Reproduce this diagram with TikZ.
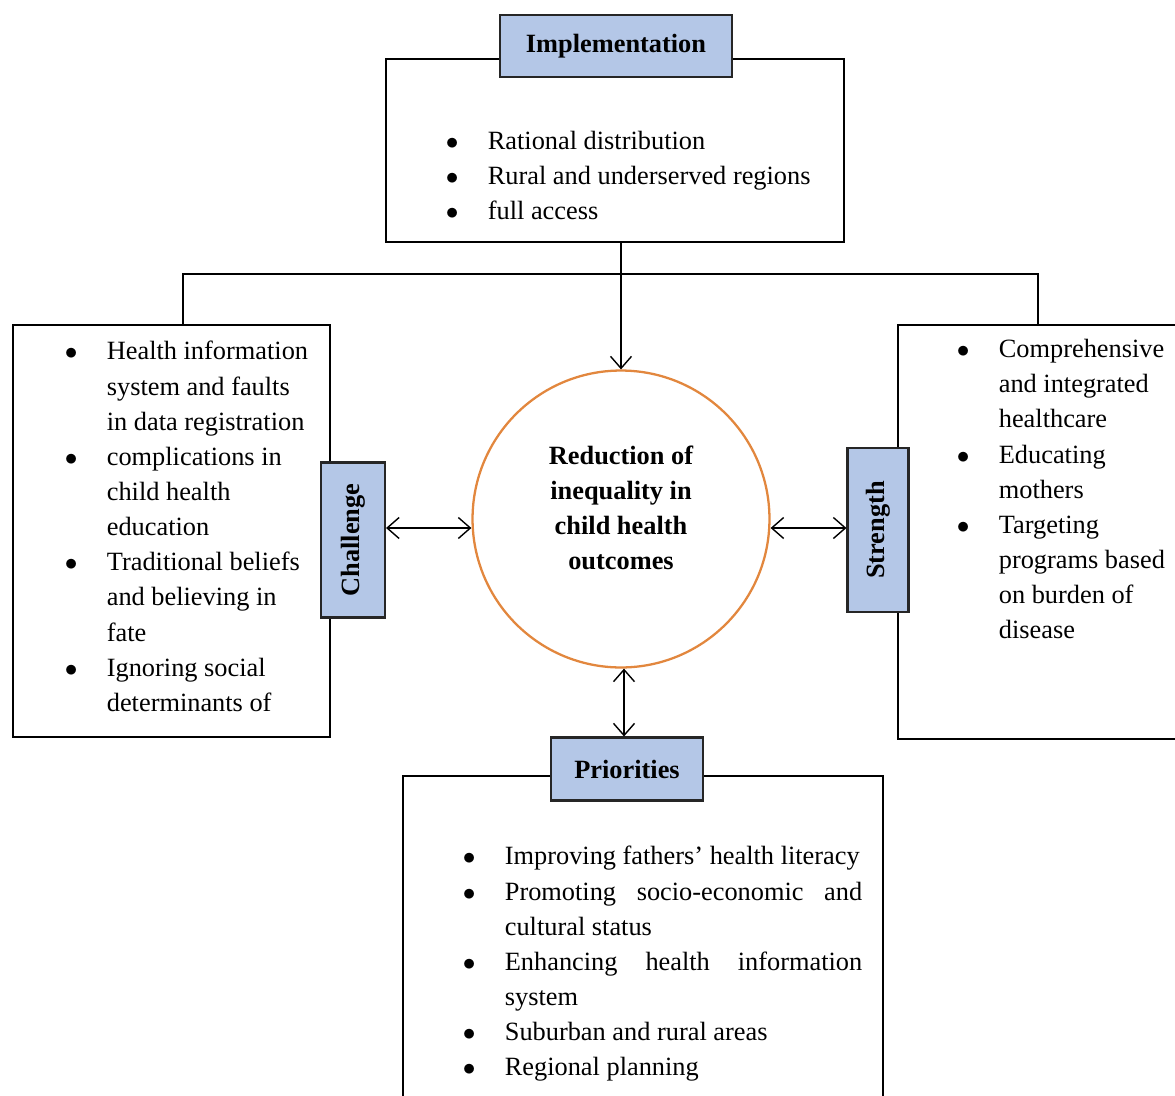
\documentclass[tikz,border=0pt]{standalone}
\usepackage{fontspec}
\setmainfont{Liberation Serif}
\usetikzlibrary{arrows.meta,positioning}
\definecolor{headBlue}{RGB}{180,199,231}
\definecolor{ringOrange}{RGB}{226,135,62}
\newcommand{\Bul}{\makebox[0.84cm][l]{$\bullet$}}
\newcommand{\Ind}{\hspace*{0.84cm}}
\newcommand{\JLine}[1]{\makebox[7.15cm][s]{#1}}

\tikzset{
  listbox/.style={draw,line width=1pt,anchor=north west,inner sep=0pt},
  headbox/.style={draw=black!85,fill=headBlue,line width=1.2pt,inner sep=0pt,font=\bfseries\fontsize{15}{18}\selectfont},
  bodytext/.style={anchor=north west,align=left,inner sep=0pt,font=\fontsize{15}{20}\selectfont},
  goaltext/.style={align=center,inner sep=0pt,font=\bfseries\fontsize{15}{19.9}\selectfont},
  link/.style={line width=0.8pt}
}

\begin{document}
\begin{tikzpicture}[x=0.02cm,y=-0.02cm,>={Straight Barb[length=2.4mm,width=4.2mm]}]
\useasboundingbox (0,0) rectangle (1175,1095);
\clip (0,0) rectangle (1175,1095);

% frames
\node[listbox,minimum width=9.16cm,minimum height=3.66cm] (impl) at (385,58) {};
\node[listbox,minimum width=6.34cm,minimum height=8.24cm] (chal) at (12,324) {};
\node[listbox,minimum width=5.7cm,minimum height=8.28cm] (strg) at (897,324) {};
\node[listbox,minimum width=9.6cm,minimum height=6.8cm] (prio) at (402,775) {};

% lists
\node[bodytext] (impllist) at (445.5,131) {\Bul Rational distribution\\ \Bul Rural and underserved regions\\ \Bul full access};
\node[bodytext] (challist) at (64.5,341) {\Bul Health information\\ \Ind system and faults\\ \Ind in data registration\\
  \Bul complications in\\ \Ind child health\\ \Ind education\\
  \Bul Traditional beliefs\\ \Ind and believing in\\ \Ind fate\\
  \Bul Ignoring social\\ \Ind determinants of};
\node[bodytext] (strglist) at (956.5,339) {\Bul Comprehensive\\ \Ind and integrated\\ \Ind healthcare\\
  \Bul Educating\\ \Ind mothers\\
  \Bul Targeting\\ \Ind programs based\\ \Ind on burden of\\ \Ind disease};
\node[bodytext] (priolist) at (462.5,846) {\Bul Improving fathers' health literacy\\
  \Bul \JLine{Promoting\hfill socio-economic\hfill and}\\ \Ind cultural status\\
  \Bul \JLine{Enhancing\hfill health\hfill information}\\ \Ind system\\
  \Bul Suburban and rural areas\\
  \Bul Regional planning};

% headers
\node[headbox,minimum width=4.64cm,minimum height=1.24cm] (implh) at (616,46) {Implementation};
\node[headbox,rotate=90,minimum width=3.1cm,minimum height=1.28cm] (chalh) at (353,540) {Challenge};
\node[headbox,rotate=90,minimum width=3.28cm,minimum height=1.22cm] (strgh) at (878,530) {Strength};
\node[headbox,minimum width=3.04cm,minimum height=1.26cm] (prioh) at (627,769) {Priorities};

% goal
\node[circle,draw=ringOrange,line width=1.3pt,minimum size=5.94cm] (goal) at (621,519) {};
\node[goaltext] (goaltxt) at ([yshift=0.22cm]goal.center) {Reduction of\\ inequality in\\ child health\\ outcomes};

% connectors
\coordinate (lft) at (183,274);
\coordinate (rgt) at (1038,274);
\draw[link] (lft |- chal.north) -- (lft) -- (rgt) -- (rgt |- strg.north);
\draw[link,->] (goal.north |- impl.south) -- (goal.north);
\draw[link,<->] ([yshift=-0.18cm]chalh.south |- goal.west) -- ([yshift=-0.18cm]goal.west);
\draw[link,<->] ([yshift=-0.18cm]goal.east) -- ([yshift=-0.18cm]strgh.north |- goal.east);
\draw[link,<->] ([xshift=0.06cm]goal.south) -- ([xshift=0.06cm]goal.south |- prioh.north);
\end{tikzpicture}
\end{document}
